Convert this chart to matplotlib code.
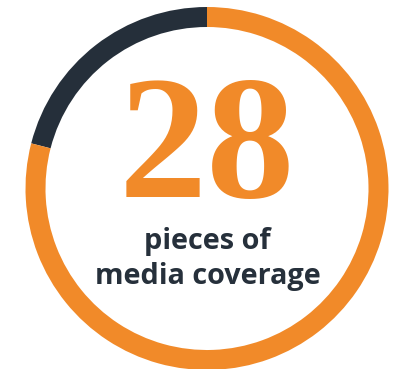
import matplotlib
matplotlib.use('Agg')
import matplotlib.pyplot as plt

# ring shares (dark part first, going counter-clockwise from the top)
shares = [21, 79]
share_colors = ['#252f3a', '#f18a29']
big_number = '28'
caption_lines = ['pieces of', 'media coverage']

W, H = 404, 369
fig = plt.figure(figsize=(W / 100, H / 100), dpi=100)
ax = fig.add_axes([0, 0, 1, 1])

ax.pie(shares, colors=share_colors, startangle=90, counterclock=True,
       center=(207, H - 188.5), radius=181.5,
       wedgeprops=dict(width=20, linewidth=0))

ax.set_xlim(0, W)
ax.set_ylim(0, H)
ax.set_aspect('equal')
ax.axis('off')

ax.text(207, H - 197, big_number, ha='center', va='baseline',
        fontsize=127, fontweight='bold', family='Liberation Serif',
        color='#f18a29')

for txt, base in zip(caption_lines, [249, 284]):
    ax.text(207.5, H - base, txt, ha='center', va='baseline',
            fontsize=20.8, fontweight='bold', family='Open Sans',
            color='#26303b')

fig.savefig('out.png', dpi=100, facecolor='white')
